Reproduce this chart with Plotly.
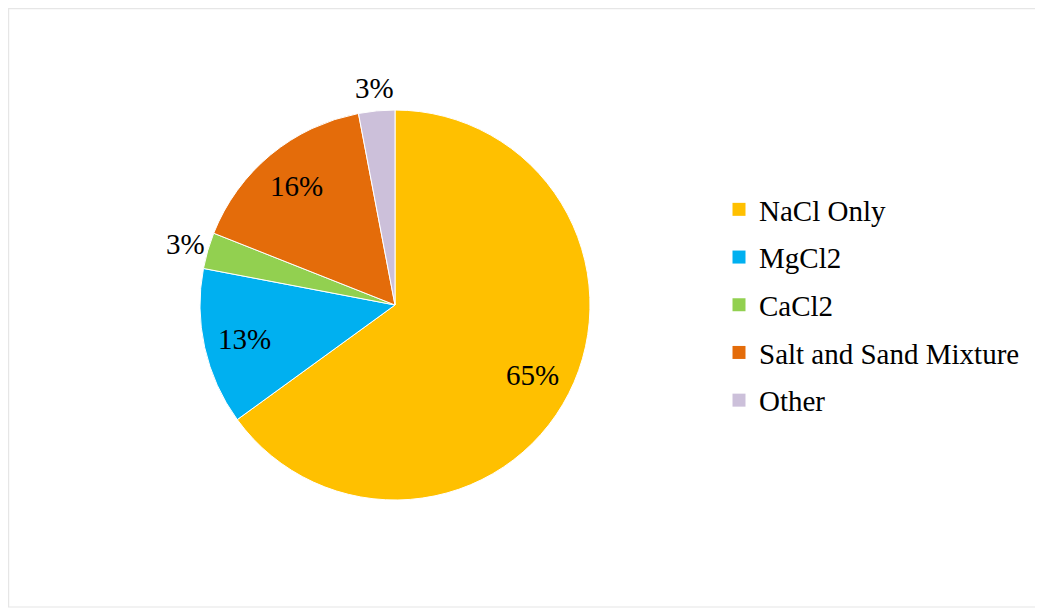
import math
import plotly.graph_objects as go

# categorias e valores (percentagens)
categorias = ['NaCl Only', 'MgCl2', 'CaCl2', 'Salt and Sand Mixture', 'Other']
valores = [65, 13, 3, 16, 3]
cores = ['#FFC000', '#00B0F0', '#92D050', '#E46C0A', '#CCC0DA']
rotulo_dentro = [True, True, False, True, False]

W, H = 1043, 610
off = 8  # margem do body da página
cx, cy, r = 395 - off, 305 - off, 195

fig = go.Figure()
fig.add_trace(go.Pie(
    labels=categorias,
    values=valores,
    sort=False,
    direction='clockwise',
    rotation=0,
    marker=dict(colors=cores, line=dict(color='white', width=1)),
    textinfo='none',
    domain=dict(x=[(cx - r) / W, (cx + r) / W], y=[(H - cy - r) / H, (H - cy + r) / H]),
    hoverinfo='label+percent',
    showlegend=False,
))

# entradas da legenda (um grupo por categoria para ter o espaçamento do original)
for cat, cor in zip(categorias, cores):
    fig.add_trace(go.Scatter(x=[None], y=[None], mode='markers', name=cat, legendgroup=cat,
                             marker=dict(symbol='square', size=13, color=cor)))

# rótulos de percentagem no ângulo médio de cada fatia
total = sum(valores)
acum = 0
anotacoes = []
for v, dentro in zip(valores, rotulo_dentro):
    ang = (acum + v / 2) / total * 2 * math.pi
    acum += v
    rr = r * (0.79 if dentro else 1.12)
    px = cx + rr * math.sin(ang)
    py = cy - rr * math.cos(ang)
    anotacoes.append(dict(x=px / W, y=1 - py / H, xref='paper', yref='paper', showarrow=False,
                          xanchor='center', yanchor='middle',
                          text=f'{round(v / total * 100)}%',
                          font=dict(family='Liberation Serif', size=29, color='black')))

fig.update_layout(
    width=W, height=H,
    margin=dict(l=0, r=0, t=0, b=0),
    paper_bgcolor='white',
    plot_bgcolor='white',
    xaxis=dict(visible=False),
    yaxis=dict(visible=False),
    font=dict(family='Liberation Serif', size=29, color='black'),
    legend=dict(x=(719 - off) / W, y=1 - (184 - off) / H, xanchor='left', yanchor='top',
                font=dict(family='Liberation Serif', size=29, color='black'),
                tracegroupgap=7),
    annotations=anotacoes,
    shapes=[dict(type='rect', xref='paper', yref='paper',
                 x0=0.6 / W, x1=(1041 - off) / W, y0=1 - (607 - off) / H, y1=1 - 0.6 / H,
                 line=dict(color='#E6E6E6', width=1.2), fillcolor='rgba(0,0,0,0)')],
)

fig.write_html('out.html')
